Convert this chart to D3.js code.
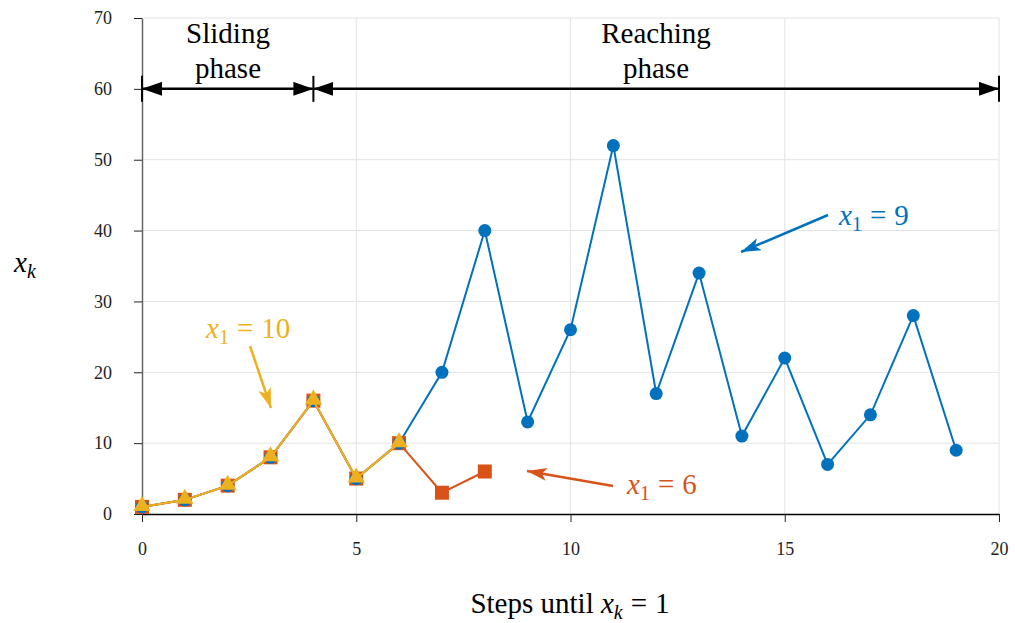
<!DOCTYPE html>
<html><head><meta charset="utf-8">
<script src="https://cdn.jsdelivr.net/npm/d3@7"></script>
<style>body{margin:0;background:#fff}svg{display:block}
svg text{font-family:"Liberation Serif","Times New Roman",Times,"DejaVu Serif","Noto Serif",serif !important;}
</style>
</head><body>
<svg id="c" width="1015" height="623"></svg>
<script>
const steps9 = [0,1,2,3,4,5,6,7,8,9,10,11,12,13,14,15,16,17,18,19];
const vals9  = [1,2,4,8,16,5,10,20,40,13,26,52,17,34,11,22,7,14,28,9];
const steps6 = [0,1,2,3,4,5,6,7,8];
const vals6  = [1,2,4,8,16,5,10,3,6];
const steps10 = [0,1,2,3,4,5,6];
const vals10  = [1,2,4,8,16,5,10];
const xTicks = [0,5,10,15,20];
const yTicks = [0,10,20,30,40,50,60,70];

const C9="#0072BD", C6="#D95319", C10="#EDB120";
const svg=d3.select("#c");
const x=d3.scaleLinear().domain([0,20]).range([142,999]);
const y=d3.scaleLinear().domain([0,70]).range([514,18]);

// grid
svg.append("g").selectAll("line").data(xTicks.slice(1)).join("line")
 .attr("x1",d=>x(d)).attr("x2",d=>x(d)).attr("y1",y(0)).attr("y2",y(70))
 .attr("stroke","#e3e3e3").attr("stroke-width",1);
svg.append("g").selectAll("line").data(yTicks.slice(1)).join("line")
 .attr("x1",x(0)).attr("x2",x(20)).attr("y1",d=>y(d)).attr("y2",d=>y(d))
 .attr("stroke","#e3e3e3").attr("stroke-width",1);

// axes
const xAxis=svg.append("g").attr("transform",`translate(0,${y(0)})`)
 .call(d3.axisBottom(x).tickValues(xTicks).tickSize(8).tickPadding(20).tickSizeOuter(0));
xAxis.select(".domain").attr("stroke","#000").attr("stroke-width",1.5);
const yAxis=svg.append("g").attr("transform",`translate(${x(0)},0)`)
 .call(d3.axisLeft(y).tickValues(yTicks).tickSize(8).tickPadding(22).tickSizeOuter(0));
yAxis.select(".domain").attr("stroke","#666").attr("stroke-width",1.5);
[xAxis,yAxis].forEach(a=>a.attr("font-size",null).style("font-size","18px"));
svg.selectAll(".tick line").attr("stroke","#222").attr("stroke-width",1);
svg.selectAll(".tick text").style("font-size","18px").attr("fill","#222");

// series
const line=d3.line();
function series(xs,vs,color){
  const pts=xs.map((s,i)=>[x(s),y(vs[i])]);
  svg.append("path").attr("d",line(pts)).attr("fill","none").attr("stroke",color).attr("stroke-width",2);
  return pts;
}
const p9=series(steps9,vals9,C9);
svg.append("g").selectAll("circle").data(p9).join("circle")
 .attr("cx",d=>d[0]).attr("cy",d=>d[1]).attr("r",6.5).attr("fill",C9);
const p6=series(steps6,vals6,C6);
svg.append("g").selectAll("rect").data(p6).join("rect")
 .attr("x",d=>d[0]-7).attr("y",d=>d[1]-7).attr("width",14).attr("height",14).attr("fill",C6);
svg.append("g").selectAll("circle").data(p9.slice(0,7)).join("circle")
 .attr("cx",d=>d[0]).attr("cy",d=>d[1]).attr("r",6.5).attr("fill",C9);
const p10=series(steps10,vals10,C10);
const tri=d3.symbol().type(d3.symbolTriangle).size(130);
svg.append("g").selectAll("path.t").data(p10).join("path")
 .attr("transform",d=>`translate(${d[0]},${d[1]-1})`).attr("d",tri).attr("fill",C10);

// arrow marker defs
const defs=svg.append("defs");
function headMarker(id,color,w,h){
  defs.append("marker").attr("id",id).attr("viewBox",`0 0 ${w} ${h}`)
   .attr("refX",w).attr("refY",h/2).attr("markerWidth",w).attr("markerHeight",h)
   .attr("markerUnits","userSpaceOnUse").attr("orient","auto-start-reverse")
   .append("path").attr("d",`M0,0L${w},${h/2}L0,${h}L${w*0.25},${h/2}Z`).attr("fill",color);
}
headMarker("hb",C9,20,13);
headMarker("ho",C6,20,13);
headMarker("hy",C10,20,13);
defs.append("marker").attr("id","hk").attr("viewBox","0 0 20 14")
 .attr("refX",20).attr("refY",7).attr("markerWidth",20).attr("markerHeight",14)
 .attr("markerUnits","userSpaceOnUse").attr("orient","auto-start-reverse")
 .append("path").attr("d","M0,0L20,7L0,14Z").attr("fill","#000");

// phase arrows
const yp=y(60);
function phase(a,b){
  svg.append("line").attr("x1",x(a)).attr("x2",x(b)).attr("y1",yp).attr("y2",yp)
   .attr("stroke","#000").attr("stroke-width",2.5)
   .attr("marker-start","url(#hk)").attr("marker-end","url(#hk)");
}
phase(0,4); phase(4,20);
[0,4,20].forEach(v=>svg.append("line").attr("x1",x(v)).attr("x2",x(v)).attr("y1",yp-13).attr("y2",yp+13)
 .attr("stroke","#000").attr("stroke-width",2));
function label2(cx,l1,l2){
  const t=svg.append("text").attr("font-size",29).attr("text-anchor","middle").attr("fill","#000");
  t.append("tspan").attr("x",cx).attr("y",43).text(l1);
  t.append("tspan").attr("x",cx).attr("y",78).text(l2);
}
label2(228,"Sliding","phase");
label2(656,"Reaching","phase");

// annotations
function mathLabel(tx,ty,num,color){
  const t=svg.append("text").attr("x",tx).attr("y",ty).attr("font-size",29).attr("fill",color);
  t.append("tspan").attr("font-style","italic").text("x");
  t.append("tspan").attr("font-size",20).attr("dy",6).text("1");
  t.append("tspan").attr("dy",-6).attr("dx",8).text("=");
  t.append("tspan").attr("dx",8).text(num);
}
function arrow(x1,y1,x2,y2,color,m){
  svg.append("line").attr("x1",x1).attr("y1",y1).attr("x2",x2).attr("y2",y2)
   .attr("stroke",color).attr("stroke-width",2.5).attr("marker-end",`url(#${m})`);
}
mathLabel(206,338,"10",C10); arrow(250,346,271,408,C10,"hy");
mathLabel(627,494,"6",C6); arrow(613,486,527,471,C6,"ho");
mathLabel(839,225,"9",C9); arrow(828,215,741,252,C9,"hb");

// axis labels
const yl=svg.append("text").attr("x",14).attr("y",272).attr("font-size",29);
yl.append("tspan").attr("font-style","italic").text("x");
yl.append("tspan").attr("font-style","italic").attr("font-size",20).attr("dy",6).text("k");
const xl=svg.append("text").attr("x",570).attr("y",613).attr("text-anchor","middle").attr("font-size",29);
xl.append("tspan").text("Steps until ");
xl.append("tspan").attr("font-style","italic").text("x");
xl.append("tspan").attr("font-style","italic").attr("font-size",20).attr("dy",6).text("k");
xl.append("tspan").attr("dy",-6).attr("dx",8).text("=");
xl.append("tspan").attr("dx",8).text("1");
</script>
</body></html>
